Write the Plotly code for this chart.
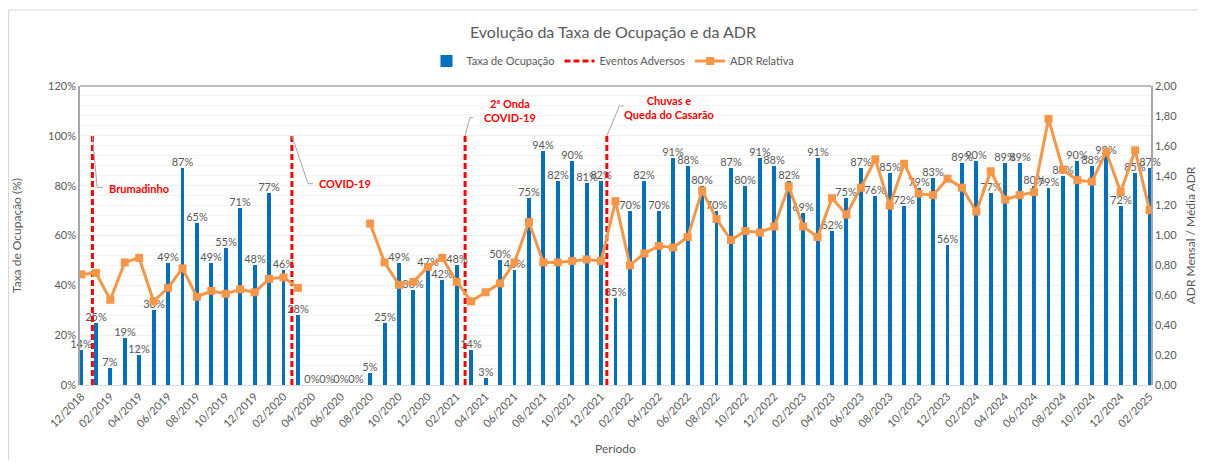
import plotly.graph_objects as go

# ---------------- data ----------------
periodo = [
    "12/2018",
    "01/2019", "02/2019", "03/2019", "04/2019", "05/2019", "06/2019",
    "07/2019", "08/2019", "09/2019", "10/2019", "11/2019", "12/2019",
    "01/2020", "02/2020", "03/2020", "04/2020", "05/2020", "06/2020",
    "07/2020", "08/2020", "09/2020", "10/2020", "11/2020", "12/2020",
    "01/2021", "02/2021", "03/2021", "04/2021", "05/2021", "06/2021",
    "07/2021", "08/2021", "09/2021", "10/2021", "11/2021", "12/2021",
    "01/2022", "02/2022", "03/2022", "04/2022", "05/2022", "06/2022",
    "07/2022", "08/2022", "09/2022", "10/2022", "11/2022", "12/2022",
    "01/2023", "02/2023", "03/2023", "04/2023", "05/2023", "06/2023",
    "07/2023", "08/2023", "09/2023", "10/2023", "11/2023", "12/2023",
    "01/2024", "02/2024", "03/2024", "04/2024", "05/2024", "06/2024",
    "07/2024", "08/2024", "09/2024", "10/2024", "11/2024", "12/2024",
    "01/2025", "02/2025",
]

taxa_ocupacao = [
    0.14,
    0.25, 0.07, 0.19, 0.12, 0.30, 0.49, 0.87, 0.65, 0.49, 0.55, 0.71, 0.48,
    0.77, 0.46, 0.28, 0.00, 0.00, 0.00, 0.00, 0.05, 0.25, 0.49, 0.38, 0.47,
    0.42, 0.48, 0.14, 0.03, 0.50, 0.46, 0.75, 0.94, 0.82, 0.90, 0.81, 0.82,
    0.35, 0.70, 0.82, 0.70, 0.91, 0.88, 0.80, 0.70, 0.87, 0.80, 0.91, 0.88,
    0.82, 0.69, 0.91, 0.62, 0.75, 0.87, 0.76, 0.85, 0.72, 0.79, 0.83, 0.56,
    0.89, 0.90, 0.77, 0.89, 0.89, 0.80, 0.79, 0.84, 0.90, 0.88, 0.92, 0.72,
    0.85, 0.87,
]

adr_relativa = [
    0.74,
    0.75, 0.57, 0.82, 0.85, 0.56, 0.65, 0.78, 0.59, 0.63, 0.61, 0.64, 0.62,
    0.71, 0.72, 0.65, None, None, None, None, 1.08, 0.82, 0.67, 0.69, 0.79,
    0.85, 0.69, 0.56, 0.62, 0.68, 0.82, 1.09, 0.82, 0.82, 0.83, 0.84, 0.83,
    1.23, 0.80, 0.88, 0.93, 0.92, 0.99, 1.30, 1.11, 0.97, 1.03, 1.02, 1.06,
    1.33, 1.06, 0.99, 1.25, 1.14, 1.32, 1.51, 1.20, 1.48, 1.28, 1.27, 1.38,
    1.32, 1.16, 1.43, 1.24, 1.27, 1.29, 1.78, 1.44, 1.37, 1.36, 1.56, 1.29,
    1.57, 1.17,
]

# adverse events: position on the month axis (fractional index) and height
evento_nomes = ["Brumadinho", "COVID-19", "2ª Onda<br>COVID-19", "Chuvas e<br>Queda do Casarão"]
evento_pos = [0.76, 14.58, 26.58, 36.40]
evento_topo = [1.0, 1.0, 1.0, 1.0]

tick_idx = list(range(0, len(periodo), 2))
tick_txt = [periodo[i] for i in tick_idx]

# ---------------- styling ----------------
FONT = "Lato, Calibri, sans-serif"
GRAY = "#595959"
OFF = 8                      # default body margin of the page
PAGE_W, PAGE_H = 1206, 468
W, H = PAGE_W - 2 * OFF, PAGE_H - 2 * OFF
ML, MT = 80 - OFF, 86 - OFF  # plot area starts at page (80, 86)
MR = W - (1151 - OFF)
MB = H - (385 - OFF)
PW, PH = W - ML - MR, H - MT - MB

x_idx = list(range(len(periodo)))

fig = go.Figure()

fig.add_trace(go.Bar(
    x=x_idx, y=taxa_ocupacao, name="Taxa de Ocupação",
    marker=dict(color="#0070C0", line=dict(width=0)),
    width=0.27,
    texttemplate="%{y:.0%}", textposition="outside",
    textfont=dict(size=11, color=GRAY, family=FONT),
    constraintext="none", cliponaxis=False,
    hovertemplate="%{customdata}: %{y:.0%}<extra></extra>",
    customdata=periodo,
))

ev_x, ev_y = [], []
for p, t in zip(evento_pos, evento_topo):
    ev_x += [p, p, None]
    ev_y += [0, t, None]
fig.add_trace(go.Scatter(
    x=ev_x, y=ev_y, mode="lines", name="Eventos Adversos",
    line=dict(color="#FF0000", width=3, dash="6px,3px"),
    hoverinfo="skip",
))

fig.add_trace(go.Scatter(
    x=x_idx, y=adr_relativa, name="ADR Relativa", yaxis="y2",
    mode="lines+markers",
    line=dict(color="#F79646", width=3),
    marker=dict(symbol="square", size=8, color="#F79646"),
    connectgaps=False,
    hovertemplate="%{y:.2f}<extra></extra>",
))

# event labels with elbow leader lines (offsets in axis units)
label_cfg = [
    # (elbow dx, elbow y, end dx, text x, text y, xanchor)
    (0.33, 0.793, 0.74, 1.78, 0.788, "left"),
    (1.12, 0.808, 1.46, 16.30, 0.808, "left"),
    (0.33, 1.073, 0.56, 29.70, 1.10, "center"),
    (0.87, 1.12, 1.15, 40.70, 1.115, "center"),
]
shapes = []
annotations = []
for name, p, t, cfg in zip(evento_nomes, evento_pos, evento_topo, label_cfg):
    edx, ey, endx, tx, ty, xa = cfg
    shapes.append(dict(
        type="path", xref="x", yref="y",
        path=f"M {p},{t} L {p + edx},{ey} L {p + endx},{ey}",
        line=dict(color="#A6A6A6", width=1),
    ))
    annotations.append(dict(
        x=tx, y=ty, xref="x", yref="y", text=f"<b>{name}</b>",
        showarrow=False, xanchor=xa, yanchor="middle", align="center",
        font=dict(size=11, color="#FF0000", family=FONT),
    ))

# top border of plot area
shapes.append(dict(type="line", xref="paper", yref="paper", x0=0, x1=1, y0=1, y1=1,
                   line=dict(color="#A6A6A6", width=1.5)))
# outer chart frame (top and left edges) at page x=8, y=10
fx0 = (8 - OFF - ML) / PW + 0.0005
fy0 = (H - (10 - OFF) - MB) / PH
shapes.append(dict(type="line", xref="paper", yref="paper", x0=fx0, x1=(W + 5 - ML) / PW,
                   y0=fy0, y1=fy0, line=dict(color="#D9D9D9", width=1.2)))
shapes.append(dict(type="line", xref="paper", yref="paper", x0=fx0, x1=fx0,
                   y0=fy0, y1=(-MB - 5) / PH, line=dict(color="#D9D9D9", width=1.2)))

fig.update_layout(
    width=W, height=H,
    margin=dict(l=ML, r=MR, t=MT, b=MB, autoexpand=False),
    paper_bgcolor="white", plot_bgcolor="white",
    font=dict(family=FONT, size=11, color=GRAY),
    separators=", ",
    title=dict(text="Evolução da Taxa de Ocupação e da ADR", x=(613 - OFF) / W, xanchor="center",
               y=1 - (32 - OFF) / H, yanchor="middle", font=dict(size=16, color=GRAY, family=FONT)),
    legend=dict(orientation="h", x=(613 - OFF - ML) / PW, xanchor="center",
                y=(PH + MT - (61 - OFF)) / PH,
                yanchor="middle", font=dict(size=11, color=GRAY), itemwidth=30,
                traceorder="normal", bgcolor="rgba(0,0,0,0)"),
    bargap=0,
    xaxis=dict(
        range=[-0.1, len(periodo) - 0.9], automargin=False,
        tickvals=tick_idx, ticktext=tick_txt, tickangle=-45,
        tickfont=dict(size=11, color=GRAY),
        showgrid=False, zeroline=False,
        showline=True, linecolor="#D9D9D9", linewidth=1,
        ticks="", title=dict(text="Período", font=dict(size=12, color=GRAY), standoff=16),
    ),
    yaxis=dict(
        range=[0, 1.2], dtick=0.2, tickformat=".0%", automargin=False,
        tickfont=dict(size=11, color=GRAY),
        showgrid=True, gridcolor="#EFEFEF", gridwidth=1,
        minor=dict(dtick=0.04, showgrid=True, gridcolor="#F4F4F4", gridwidth=1),
        zeroline=False, showline=True, linecolor="#A6A6A6", linewidth=1.5,
        ticks="", title=dict(text="Taxa de Ocupação (%)", font=dict(size=12, color=GRAY), standoff=24),
    ),
    yaxis2=dict(
        range=[0, 2.0], dtick=0.2, tickformat=".2f", overlaying="y", side="right",
        automargin=False,
        tickfont=dict(size=11, color=GRAY),
        showgrid=False, zeroline=False, showline=True, linecolor="#A6A6A6", linewidth=1.5,
        ticks="", title=dict(text="ADR Mensal / Média ADR", font=dict(size=12, color=GRAY), standoff=10),
    ),
    shapes=shapes,
    annotations=annotations,
    showlegend=True,
)

fig.write_html("out.html")
